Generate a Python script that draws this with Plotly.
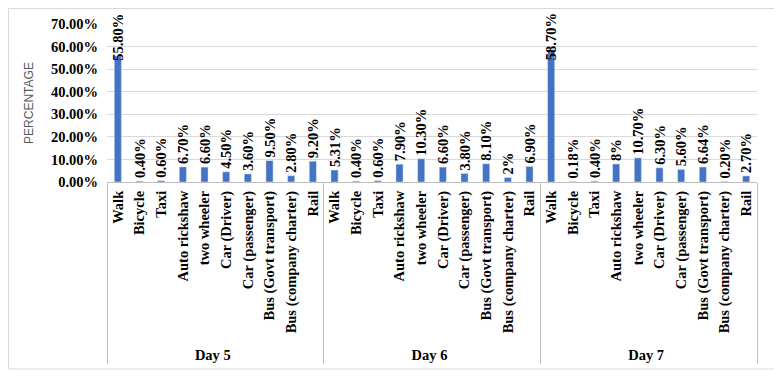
import plotly.graph_objects as go

days = ["Day 5", "Day 6", "Day 7"]
modes = ["Walk", "Bicycle", "Taxi", "Auto rickshaw", "two wheeler", "Car (Driver)",
         "Car (passenger)", "Bus (Govt transport)", "Bus (company charter)", "Rail"]
day5 = [55.80, 0.40, 0.60, 6.70, 6.60, 4.50, 3.60, 9.50, 2.80, 9.20]
day6 = [5.31, 0.40, 0.60, 7.90, 10.30, 6.60, 3.80, 8.10, 2.0, 6.90]
day7 = [58.70, 0.18, 0.40, 8.0, 10.70, 6.30, 5.60, 6.64, 0.20, 2.70]
labels5 = ["55.80%", "0.40%", "0.60%", "6.70%", "6.60%", "4.50%", "3.60%", "9.50%", "2.80%", "9.20%"]
labels6 = ["5.31%", "0.40%", "0.60%", "7.90%", "10.30%", "6.60%", "3.80%", "8.10%", "2%", "6.90%"]
labels7 = ["58.70%", "0.18%", "0.40%", "8%", "10.70%", "6.30%", "5.60%", "6.64%", "0.20%", "2.70%"]

Y_MAX = 0.70
x_outer, x_inner, yvals, texts = [], [], [], []
clamped = []  # labels that would overflow the top: drawn as annotations pinned under the top
for d, vals, labs in zip(days, [day5, day6, day7], [labels5, labels6, labels7]):
    for m, v, t in zip(modes, vals, labs):
        idx = len(yvals)
        x_outer.append(d)
        x_inner.append(m)
        yvals.append(v / 100)
        if v / 100 > 0.45:
            texts.append("")
            clamped.append((idx, t))
        else:
            texts.append(t)

serif = "Liberation Serif"
fig = go.Figure(go.Bar(
    x=[x_outer, x_inner], y=yvals, text=texts,
    textposition="outside", textangle=-90, cliponaxis=False, constraintext="none",
    textfont=dict(family=serif, size=14.5, color="#000000", weight="bold"),
    marker=dict(color="#4472C4"),
))

for idx, t in clamped:
    fig.add_annotation(x=idx, xref="x", y=0.918, yref="paper", text=t, textangle=-90,
                       showarrow=False, xanchor="center", yanchor="middle",
                       font=dict(family=serif, size=14.5, color="#000000", weight="bold"))

# page body has an 8px margin, so the figure is shifted by 8px
OFF = 8
W, H = 782 - OFF, 377 - OFF
L, R, T, B = 107 - OFF, 25, 24 - OFF, 195
pw, ph = W - L - R, H - T - B
fig.add_shape(type="rect", xref="paper", yref="paper",
              x0=(0.5 - L) / pw, x1=(775 - OFF - L) / pw,
              y0=((H - B) - (369 - OFF)) / ph, y1=((H - B) - 0.5) / ph,
              line=dict(color="#d9d9d9", width=1), layer="below")

fig.update_layout(
    width=W, height=H, margin=dict(l=L, r=R, t=T, b=B, autoexpand=False),
    paper_bgcolor="white", plot_bgcolor="white",
    bargap=0.67, showlegend=False,
    font=dict(family=serif, size=14.5, color="#000000"),
    xaxis=dict(tickangle=-90, showline=True, linecolor="#bfbfbf", automargin=False,
               showdividers=True, dividercolor="#bfbfbf", dividerwidth=1,
               ticklabelstandoff=2,
               tickfont=dict(family=serif, size=14.5, weight="bold"), ticks=""),
    yaxis=dict(range=[0, Y_MAX], dtick=0.10, tickformat=".2%", gridcolor="#d9d9d9",
               zeroline=False, showline=False, automargin=False, ticklabelstandoff=8,
               tickfont=dict(family=serif, size=14.5, weight="bold"),
               title=dict(text="PERCENTAGE", font=dict(family="Liberation Sans", size=12, color="#595959"),
                          standoff=14)),
)
fig.write_html("out.html")
